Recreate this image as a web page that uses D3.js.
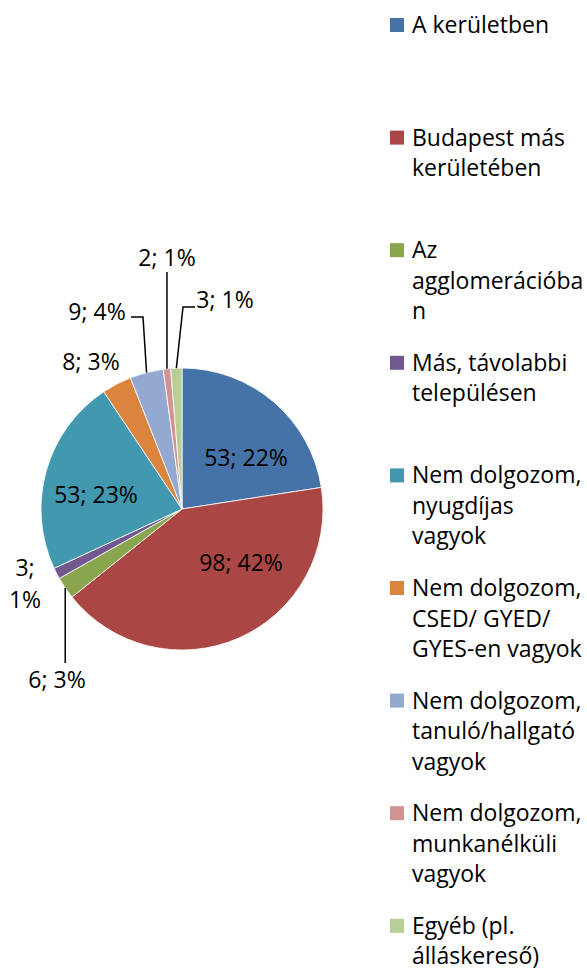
<!DOCTYPE html>
<meta charset="utf-8">
<script src="https://d3js.org/d3.v7.min.js"></script>
<style>
  body { margin: 0; background: #fff; }
  text { font-family: "Open Sans", sans-serif; font-size: 23px; fill: #000; }
</style>
<body>
<svg id="svg" width="587" height="972"></svg>
<script>
// data
var categories = [
  ["A kerületben"],
  ["Budapest más", "kerületében"],
  ["Az", "agglomerációba", "n"],
  ["Más, távolabbi", "településen"],
  ["Nem dolgozom,", "nyugdíjas", "vagyok"],
  ["Nem dolgozom,", "CSED/ GYED/", "GYES-en vagyok"],
  ["Nem dolgozom,", "tanuló/hallgató", "vagyok"],
  ["Nem dolgozom,", "munkanélküli", "vagyok"],
  ["Egyéb (pl.", "álláskereső)"]
];
var values   = [53, 98, 6, 3, 53, 8, 9, 2, 3];
var percents = ["22%", "42%", "3%", "1%", "23%", "3%", "4%", "1%", "1%"];
var colors   = ["#4572A7", "#AA4643", "#89A54E", "#71588F", "#4198AF",
                "#DB843D", "#93A9CF", "#D19392", "#B9CD96"];

var svg = d3.select("#svg");
var cx = 182, cy = 509, R = 141;

var pie = d3.pie().sort(null).value(function(d) { return d; });
var arcs = pie(values);
var arc = d3.arc().innerRadius(0).outerRadius(R);

var g = svg.append("g").attr("transform", "translate(" + cx + "," + cy + ")");

g.selectAll("path.slice")
  .data(arcs)
  .enter()
  .append("path")
  .attr("class", "slice")
  .attr("d", arc)
  .attr("fill", function(d, i) { return colors[i]; })
  .attr("stroke", "#fff")
  .attr("stroke-width", 0.8);

// point on the rim at the middle of a slice
function rim(d) {
  var a = (d.startAngle + d.endAngle) / 2;
  return [R * Math.sin(a), -R * Math.cos(a)];
}

// label placement (relative to pie centre), like Excel "best fit"
var labelLayout = {
  0: { at: [64, -51] },
  1: { at: [59, 54] },
  2: { at: [-125, 171], leader: [[null, 154]] },
  3: { at: [-157, 59], split: true },
  4: { at: [-86, -14] },
  5: { at: [-91, -147] },
  6: { at: [-85, -197], leader: [[-39, -192], [-51, -192]] },
  7: { at: [-15, -251], leader: [[null, -237]] },
  8: { at: [43, -209], leader: [[1, -202], [13, -202]] }
};

arcs.forEach(function(d, i) {
  var L = labelLayout[i];
  if (L.leader) {
    var p0 = rim(d);
    var pts = [p0].concat(L.leader.map(function(p) {
      return [p[0] === null ? p0[0] : p[0], p[1]];
    }));
    g.append("path")
      .attr("d", d3.line()(pts))
      .attr("fill", "none")
      .attr("stroke", "#000")
      .attr("stroke-width", 1.5);
  }
  var t = g.append("text")
    .attr("text-anchor", "middle")
    .attr("x", L.at[0])
    .attr("y", L.at[1]);
  if (L.split) {
    t.append("tspan").attr("x", L.at[0]).attr("dy", "0.35em").text(values[i] + ";");
    t.append("tspan").attr("x", L.at[0]).attr("dy", 32).text(percents[i]);
  } else {
    t.attr("dy", "0.35em").text(values[i] + "; " + percents[i]);
  }
});

// legend
var legendTop = 25, legendStep = 112.6, lineH = 30.5;
var legend = svg.append("g").attr("transform", "translate(390,0)");

var items = legend.selectAll("g.item")
  .data(categories)
  .enter()
  .append("g")
  .attr("class", "item")
  .attr("transform", function(d, i) { return "translate(0," + (legendTop + i * legendStep) + ")"; });

items.append("rect")
  .attr("x", 0)
  .attr("y", -7)
  .attr("width", 14)
  .attr("height", 14)
  .attr("fill", function(d, i) { return colors[i]; });

items.append("text")
  .attr("x", 22)
  .attr("y", 0)
  .selectAll("tspan")
  .data(function(d) { return d; })
  .enter()
  .append("tspan")
  .attr("x", 22)
  .attr("y", function(d, j) { return j * lineH; })
  .attr("dy", "0.35em")
  .text(function(d) { return d; });
</script>
</body>
